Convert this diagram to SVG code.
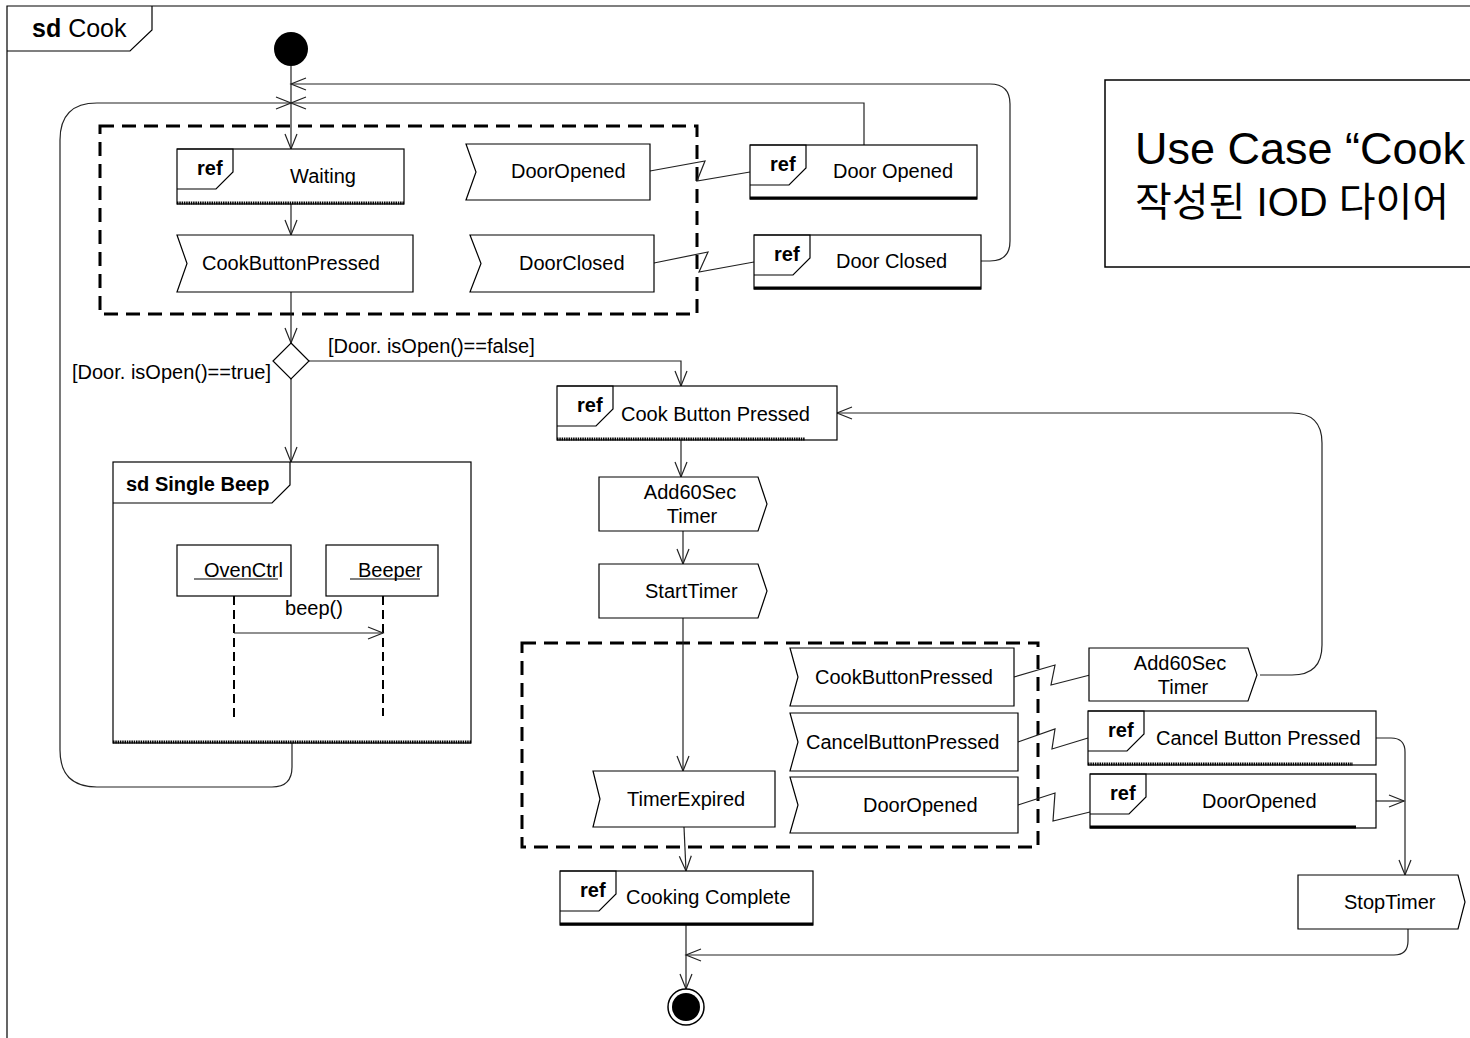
<svg xmlns="http://www.w3.org/2000/svg" width="1470" height="1038" viewBox="0 0 1470 1038">
  <style>
    .shape { fill: #fff; stroke: #000; stroke-width: 1.2; }
    .line { fill: none; stroke: #222; stroke-width: 1.2; }
    .frag { fill: none; stroke: #000; stroke-width: 3; stroke-dasharray: 14 8; }
    .lbl { font-family: "Liberation Sans", Arial, sans-serif; font-size: 20px; fill: #000; }
    .bold { font-family: "Liberation Sans", Arial, sans-serif; font-weight: bold; fill: #000; }
    .title { font-family: "Liberation Sans", Arial, sans-serif; font-size: 25px; fill: #000; }
    .solidBase { stroke: #000; stroke-width: 3; }
    .dotBase { stroke: #000; stroke-width: 3; stroke-dasharray: 1.5 0.8; }
    .big { font-family: "Liberation Sans", Arial, "Noto Sans CJK KR", sans-serif; fill: #000; }
  </style>
  <defs>
    <marker id="open" markerUnits="userSpaceOnUse" markerWidth="18" markerHeight="14" refX="15" refY="6" orient="auto" overflow="visible">
      <path d="M0,0 L15,6 L0,12" fill="none" stroke="#222" stroke-width="1.2"/>
    </marker>
    <g id="refTag">
      <path d="M0,0 H56 V23 L39,40 H0" fill="none" stroke="#000" stroke-width="1.2"/>
      <text x="20" y="26" class="bold" font-size="20">ref</text>
    </g>
  </defs>

  <rect width="1470" height="1038" fill="#fff"/>

  <!-- outer sd frame -->
  <g id="frame">
    <path d="M7,1045 V6 H1480" fill="none" stroke="#000" stroke-width="1.2"/>
    <path d="M7,51 H130 L152,30 V6" fill="none" stroke="#000" stroke-width="1.2"/>
    <text x="32" y="37" class="title"><tspan font-weight="bold">sd</tspan> Cook</text>
  </g>

  <!-- interaction fragments (dashed regions) -->
  <g id="region-wait">
    <rect x="100" y="126" width="597" height="188" class="frag"/>
  </g>
  <g id="region-cook">
    <rect x="522" y="643" width="516" height="204" class="frag"/>
  </g>

  <!-- connectors -->
  <g id="connectors">
    <path class="line" d="M291,66 V149" marker-end="url(#open)"/>
    <path class="line" d="M291,204 V235" marker-end="url(#open)"/>
    <path class="line" d="M291,292 V343" marker-end="url(#open)"/>
    <path class="line" d="M309,361 H681 V386" marker-end="url(#open)"/>
    <path class="line" d="M291,379 V462" marker-end="url(#open)"/>
    <path class="line" d="M292,743 V767 Q292,787 272,787 H97 Q60,787 60,750 V140 Q60,103 97,103 H291" marker-end="url(#open)"/>
    <path class="line" d="M864,145 V103 H291" marker-end="url(#open)"/>
    <path class="line" d="M981,261 H990 Q1010,261 1010,241 V104 Q1010,84 990,84 H291" marker-end="url(#open)"/>
    <path class="line" d="M650,171 L705,161 L697,181 L750,172"/>
    <path class="line" d="M654,263 L708,252 L699,272 L754,262"/>
    <path class="line" d="M681,440 V477" marker-end="url(#open)"/>
    <path class="line" d="M683,531 V564" marker-end="url(#open)"/>
    <path class="line" d="M683,618 V771" marker-end="url(#open)"/>
    <path class="line" d="M684,827 L686,871" marker-end="url(#open)"/>
    <path class="line" d="M686,925 V989" marker-end="url(#open)"/>
    <path class="line" d="M1014,677 L1055,665 L1051,685 L1090,675"/>
    <path class="line" d="M1018,742 L1055,729 L1052,749 L1088,738"/>
    <path class="line" d="M1018,805 L1055,793 L1053,821 L1090,812"/>
    <path class="line" d="M1260,675 H1292 Q1322,675 1322,645 V443 Q1322,413 1292,413 H837" marker-end="url(#open)"/>
    <path class="line" d="M1376,738 H1391 Q1405,738 1405,752 V875" marker-end="url(#open)"/>
    <path class="line" d="M1376,801 H1404" marker-end="url(#open)"/>
    <path class="line" d="M1408,929 V941 Q1408,955 1394,955 H686" marker-end="url(#open)"/>
  </g>

  <!-- initial node -->
  <g id="start">
    <circle cx="291" cy="49" r="17" fill="#000"/>
  </g>

  <!-- ref Waiting -->
  <g id="ref-waiting">
    <rect x="177" y="149" width="227" height="55" class="shape"/>
    <line x1="177" y1="203" x2="404" y2="203" class="dotBase"/>
    <use href="#refTag" x="177" y="149"/>
    <text x="290" y="183" class="lbl">Waiting</text>
  </g>

  <g id="recv-cook-1">
    <path d="M177,235 H413 V292 H177 L187,263.5 Z" class="shape"/>
    <text x="202" y="270" class="lbl">CookButtonPressed</text>
  </g>

  <g id="recv-door-opened-1">
    <path d="M466,144 H650 V200 H466 L476,172 Z" class="shape"/>
    <text x="511" y="178" class="lbl">DoorOpened</text>
  </g>

  <g id="recv-door-closed">
    <path d="M470,235 H654 V292 H470 L481,263.5 Z" class="shape"/>
    <text x="519" y="270" class="lbl">DoorClosed</text>
  </g>

  <g id="ref-door-opened-1">
    <rect x="750" y="145" width="227" height="54" class="shape"/>
    <line x1="750" y1="198" x2="977" y2="198" class="solidBase"/>
    <use href="#refTag" x="750" y="145"/>
    <text x="833" y="178" class="lbl">Door Opened</text>
  </g>

  <g id="ref-door-closed">
    <rect x="754" y="235" width="227" height="54" class="shape"/>
    <line x1="754" y1="288" x2="981" y2="288" class="solidBase"/>
    <use href="#refTag" x="754" y="235"/>
    <text x="836" y="268" class="lbl">Door Closed</text>
  </g>

  <!-- decision -->
  <g id="decision">
    <path d="M291,343 L309,361 L291,379 L273,361 Z" class="shape"/>
    <text x="72" y="379" class="lbl">[Door. isOpen()==true]</text>
    <text x="328" y="353" class="lbl">[Door. isOpen()==false]</text>
  </g>

  <!-- inline sd Single Beep -->
  <g id="sd-single-beep">
    <rect x="113" y="462" width="358" height="281" class="shape"/>
    <line x1="113" y1="742" x2="471" y2="742" class="dotBase"/>
    <path d="M113,503 H272 L290,485 V462" fill="none" stroke="#000" stroke-width="1.2"/>
    <text x="126" y="491" class="bold" font-size="20">sd Single Beep</text>
    <rect x="177" y="545" width="114" height="51" class="shape"/>
    <text x="204" y="577" class="lbl">OvenCtrl</text>
    <line x1="194" y1="579" x2="278" y2="579" stroke="#000" stroke-width="1.2"/>
    <rect x="326" y="545" width="112" height="51" class="shape"/>
    <text x="358" y="577" class="lbl">Beeper</text>
    <line x1="350" y1="579" x2="420" y2="579" stroke="#000" stroke-width="1.2"/>
    <line x1="234" y1="596" x2="234" y2="721" stroke="#000" stroke-width="2" stroke-dasharray="9 5"/>
    <line x1="383" y1="596" x2="383" y2="716" stroke="#000" stroke-width="2" stroke-dasharray="9 5"/>
    <path class="line" d="M234,633 H383" marker-end="url(#open)"/>
    <text x="314" y="615" class="lbl" text-anchor="middle">beep()</text>
  </g>

  <g id="ref-cook-button">
    <rect x="557" y="386" width="280" height="54" class="shape"/>
    <line x1="557" y1="439" x2="805" y2="439" class="dotBase"/>
    <use href="#refTag" x="557" y="386"/>
    <text x="621" y="421" class="lbl">Cook Button Pressed</text>
  </g>

  <g id="send-add60-1">
    <path d="M599,477 H758 L767,504 L758,531 H599 Z" class="shape"/>
    <text x="690" y="499" class="lbl" text-anchor="middle">Add60Sec</text>
    <text x="692" y="523" class="lbl" text-anchor="middle">Timer</text>
  </g>

  <g id="send-start-timer">
    <path d="M599,564 H758 L767,591 L758,618 H599 Z" class="shape"/>
    <text x="645" y="598" class="lbl">StartTimer</text>
  </g>

  <g id="recv-timer-expired">
    <path d="M593,771 H775 V827 H593 L600,799 Z" class="shape"/>
    <text x="627" y="806" class="lbl">TimerExpired</text>
  </g>

  <g id="recv-cook-2">
    <path d="M790,648 H1014 V706 H790 L798,677 Z" class="shape"/>
    <text x="815" y="684" class="lbl">CookButtonPressed</text>
  </g>

  <g id="recv-cancel">
    <path d="M790,713 H1018 V771 H790 L798,742 Z" class="shape"/>
    <text x="806" y="749" class="lbl">CancelButtonPressed</text>
  </g>

  <g id="recv-door-opened-2">
    <path d="M790,777 H1018 V833 H790 L798,805 Z" class="shape"/>
    <text x="863" y="812" class="lbl">DoorOpened</text>
  </g>

  <g id="send-add60-2">
    <path d="M1089,648 H1248 L1257,675 L1248,701 H1089 Z" class="shape"/>
    <text x="1180" y="670" class="lbl" text-anchor="middle">Add60Sec</text>
    <text x="1183" y="694" class="lbl" text-anchor="middle">Timer</text>
  </g>

  <g id="ref-cancel">
    <rect x="1088" y="711" width="288" height="54" class="shape"/>
    <line x1="1088" y1="764" x2="1353" y2="764" class="dotBase"/>
    <use href="#refTag" x="1088" y="711"/>
    <text x="1156" y="745" class="lbl">Cancel Button Pressed</text>
  </g>

  <g id="ref-door-opened-2">
    <rect x="1090" y="774" width="286" height="54" class="shape"/>
    <line x1="1090" y1="827" x2="1356" y2="827" class="solidBase"/>
    <use href="#refTag" x="1090" y="774"/>
    <text x="1202" y="808" class="lbl">DoorOpened</text>
  </g>

  <g id="send-stop-timer">
    <path d="M1298,875 H1458 L1465,902 L1458,929 H1298 Z" class="shape"/>
    <text x="1344" y="909" class="lbl">StopTimer</text>
  </g>

  <g id="ref-cooking-complete">
    <rect x="560" y="871" width="253" height="54" class="shape"/>
    <line x1="560" y1="924" x2="813" y2="924" class="solidBase"/>
    <use href="#refTag" x="560" y="871"/>
    <text x="626" y="904" class="lbl">Cooking Complete</text>
  </g>

  <!-- final node -->
  <g id="end">
    <circle cx="686" cy="1007" r="18" fill="#fff" stroke="#000" stroke-width="1.5"/>
    <circle cx="686" cy="1007" r="14" fill="#000"/>
  </g>

  <!-- caption box -->
  <g id="caption">
    <rect x="1105" y="80" width="400" height="187" fill="#fff" stroke="#000" stroke-width="1.5"/>
    <text x="1135" y="164" class="big" font-size="45">Use Case “Cook</text>
    <text x="1135" y="216" class="big" font-size="40">작성된 IOD 다이어</text>
  </g>
</svg>
